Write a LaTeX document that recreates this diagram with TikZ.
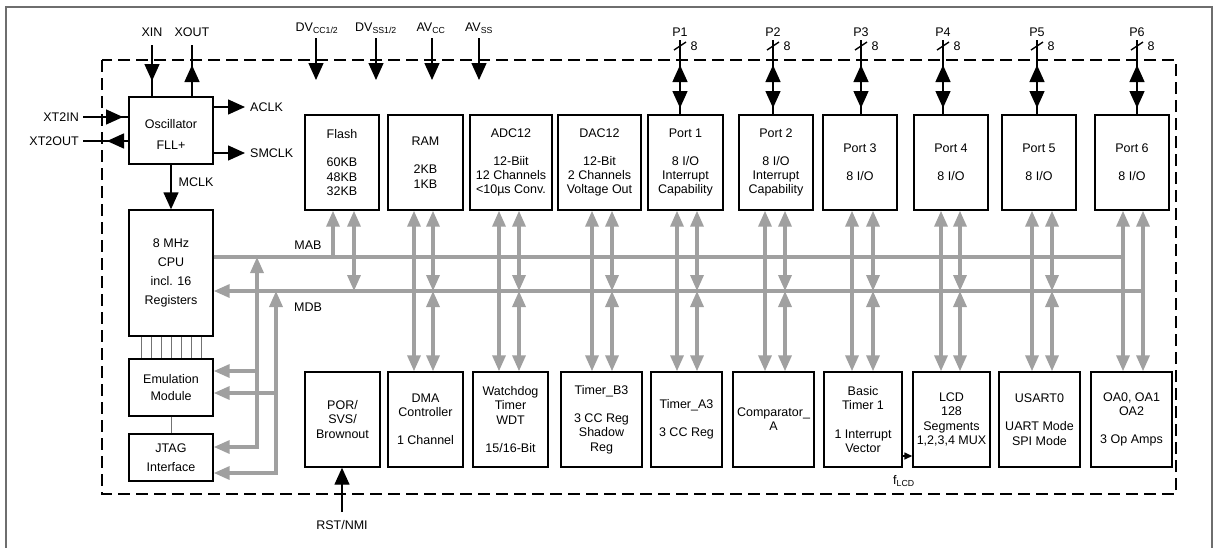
\documentclass[tikz,border=0pt]{standalone}
\usepackage{fontspec}
\setmainfont{Liberation Sans}
\usetikzlibrary{arrows.meta}
\definecolor{busgray}{RGB}{160,160,160}
\definecolor{framegray}{RGB}{110,110,110}
\begin{document}
\begin{tikzpicture}[x=1pt,y=-1pt,
  every node/.style={font=\fontsize{12.5}{14.2}\selectfont, inner sep=0pt},
  mod/.style={draw, line width=1.4pt, align=center},
  topmod/.style={mod, minimum height=95pt},
  blk/.tip={Triangle[width=15pt,length=17pt]},
  gtip/.tip={Triangle[width=13pt,length=16pt]},
  wire/.style={line width=1.4pt},
  thinwire/.style={line width=0.8pt, draw=black!55},
  gline/.style={draw=busgray, line width=3.4pt},
  gboth/.style={gline, gtip-gtip},
  gend/.style={gline, -gtip},
  chip/.style={line width=2.6pt, dash pattern=on 12pt off 6pt},
]
\useasboundingbox (0,0) rectangle (1216,547);
% outer frame and chip boundary
\draw[framegray, line width=1.2pt] (6,552) -- (6,7) -- (1212,7) -- (1212,552);
\draw[chip] (102,60) rectangle (1176,494);

% left column
\node[mod, minimum width=84pt, minimum height=67pt] (osc) at (171,130.5) {};
\node[align=center] (osctext) at (171,134.5) {Oscillator\\[6.8pt]FLL+};
\node[mod, minimum width=84pt, minimum height=126pt] (cpu) at (171,273) {8 MHz\\[5pt]CPU\\[5pt]incl. 16\\[5pt]Registers};
\node[mod, minimum width=84pt, minimum height=57pt] (emu) at (171,387.5) {Emulation\\[2pt]Module};
\node[mod, minimum width=84pt, minimum height=47pt] (jtag) at (171,457.5) {JTAG\\[5pt]Interface};

% top modules
\node[topmod, minimum width=74pt] (flash) at (342,162.5) {Flash\\[14pt]60KB\\48KB\\32KB};
\node[topmod, minimum width=75pt] (ram) at (425.5,162.5) {RAM\\[14pt]2KB\\1KB};
\node[topmod, minimum width=82pt] (adc) at (511,162.5) {ADC12\\[14pt]12-Biit\\12 Channels\\<10µs Conv.};
\node[topmod, minimum width=83pt] (dac) at (599.5,162.5) {DAC12\\[14pt]12-Bit\\2 Channels\\Voltage Out};
\node[topmod, minimum width=75pt] (p1) at (685.5,162.5) {Port 1\\[14pt]8 I/O\\Interrupt\\Capability};
\node[topmod, minimum width=74pt] (p2) at (776,162.5) {Port 2\\[14pt]8 I/O\\Interrupt\\Capability};
\node[topmod, minimum width=74pt] (p3) at (860,162.5) {Port 3\\[14pt]8 I/O};
\node[topmod, minimum width=74pt] (p4) at (951,162.5) {Port 4\\[14pt]8 I/O};
\node[topmod, minimum width=74pt] (p5) at (1039,162.5) {Port 5\\[14pt]8 I/O};
\node[topmod, minimum width=74pt] (p6) at (1132,162.5) {Port 6\\[14pt]8 I/O};

% bottom modules
\node[topmod, minimum width=75pt] (por) at (342.5,419.5) {POR/\\SVS/\\Brownout};
\node[topmod, minimum width=75pt] (dma) at (425.5,419.5) {DMA\\Controller\\[14pt]1 Channel};
\node[topmod, minimum width=75pt] (wdt) at (510.5,419.5) {Watchdog\\Timer\\WDT\\[14pt]15/16-Bit};
\node[topmod, minimum width=81pt] (tb) at (601.5,419.5) {Timer\_B3\\[14pt]3 CC Reg\\Shadow\\Reg};
\node[topmod, minimum width=71pt] (ta) at (686.5,419.5) {Timer\_A3\\[14pt]3 CC Reg};
\node[topmod, minimum width=81pt] (comp) at (773.5,419.5) {Comparator\_\\A};
\node[topmod, minimum width=78pt] (bt) at (863,419.5) {Basic\\Timer 1\\[14pt]1 Interrupt\\Vector};
\node[topmod, minimum width=77pt] (lcd) at (951.5,419.5) {LCD\\128\\Segments\\1,2,3,4 MUX};
\node[topmod, minimum width=81pt] (usart) at (1039.5,419.5) {USART0\\[14pt]UART Mode\\SPI Mode};
\node[topmod, minimum width=81pt] (oa) at (1131.5,419.5) {OA0, OA1\\OA2\\[14pt]3 Op Amps};

% oscillator pins
\node (xinl) at (152,32) {XIN};
\node (xoutl) at (192,32) {XOUT};
\coordinate (xin) at (152,45);
\coordinate (xout) at (192,45);
\draw[wire] (xin) -- (osc.north -| xin);
\draw[wire,-blk] (xin) -- (152,81);
\draw[wire] (osc.north -| xout) -- (xout);
\draw[wire,-blk] (192,83) -- (192,65);

\node[anchor=east] (xt2inl) at (79,117) {XT2IN};
\node[anchor=east] (xt2outl) at (79,141) {XT2OUT};
\coordinate (xt2in) at (83,117);
\coordinate (xt2out) at (83,141);
\draw[wire] (xt2in) -- (osc.west |- xt2in);
\draw[wire,-blk] (xt2in) -- (123,117);
\draw[wire] (osc.west |- xt2out) -- (xt2out);
\draw[wire,-blk] (osc.west |- xt2out) -- (107,141);

\coordinate (aclk) at (245,107);
\coordinate (smclk) at (245,153);
\draw[wire,-blk] (osc.east |- aclk) -- (aclk);
\draw[wire,-blk] (osc.east |- smclk) -- (smclk);
\node[anchor=west] (aclkl) at (250,107) {ACLK};
\node[anchor=west] (smclkl) at (250,153) {SMCLK};

\draw[wire,-blk] (osc.south) -- (cpu.north);
\node (mclkl) at (196,182) {MCLK};

% cpu - emulation - jtag
\foreach \i in {-3,...,3}
  \draw[thinwire] ([xshift=\i*10pt]cpu.south) -- ([xshift=\i*10pt]emu.north);
\draw[thinwire] (emu.south) -- (jtag.north);

% power pins
\node[anchor=base] (dvccl) at (317,31.5) {DV\textsubscript{CC1/2}};
\node[anchor=base] (dvssl) at (376,31.5) {DV\textsubscript{SS1/2}};
\node[anchor=base] (avccl) at (431,31.5) {AV\textsubscript{CC}};
\node[anchor=base] (avssl) at (479,31.5) {AV\textsubscript{SS}};
\coordinate (dvcc) at (316,38);
\coordinate (dvss) at (376,38);
\coordinate (avcc) at (432,38);
\coordinate (avss) at (479,38);
\draw[wire,-blk] (dvcc) -- ++(0,42);
\draw[wire,-blk] (dvss) -- ++(0,42);
\draw[wire,-blk] (avcc) -- ++(0,42);
\draw[wire,-blk] (avss) -- ++(0,42);

% ports
\foreach \n/\x in {1/680,2/773,3/861,4/943,5/1037,6/1137}{
  \coordinate (pin\n) at (\x,40);
  \draw[wire] (pin\n) -- (p\n.north -| pin\n);
  \draw[wire,-blk] (\x,83) -- (\x,65);
  \draw[wire,-blk] (\x,88) -- (\x,108);
  \draw[wire] (\x-6,50) -- (\x+6,42);
  \node (plbl\n) at (\x,32) {P\n};
  \node (pw\n) at (\x+14,46) {8};
}

% buses
\coordinate (mab) at (0,257);
\coordinate (mdb) at (0,291);
\coordinate (mabend) at (1123,257);
\coordinate (mdbend) at (1143,291);
\draw[gline] (cpu.east |- mab) -- (mabend);
\draw[gend] (mdbend) -- (cpu.east |- mdb);
\node (mabl) at (308,245) {MAB};
\node (mdbl) at (308,307) {MDB};

% flash column
\coordinate (fl) at (333,0);
\coordinate (fr) at (354,0);
\draw[gend] (fl |- mab) -- (flash.south -| fl);
\draw[gboth] (flash.south -| fr) -- (fr |- mdb);

% general columns
\foreach \t/\b/\xl/\xr in {ram/dma/414/433, adc/wdt/499/519, dac/tb/592/612, p1/ta/677/697, p2/comp/765/785, p3/bt/852/873, p4/lcd/941/960, p5/usart/1032/1052}{
  \coordinate (cl) at (\xl,0);
  \coordinate (cr) at (\xr,0);
  \draw[gboth] (\t.south -| cl) -- (\b.north -| cl);
  \draw[gboth] (\t.south -| cr) -- (cr |- mdb);
  \draw[gboth] (cr |- mdb) -- (\b.north -| cr);
}

% port 6 / op amps column
\coordinate (o1) at (1123,0);
\coordinate (o2) at (1143,0);
\draw[gboth] (p6.south -| o1) -- (oa.north -| o1);
\draw[gboth] (p6.south -| o2) -- (oa.north -| o2);

% emulation / jtag bus taps
\coordinate (va) at (257,0);
\coordinate (vb) at (276,0);
\coordinate (ea) at (0,371);
\coordinate (eb) at (0,393);
\coordinate (ja) at (0,447);
\coordinate (jb) at (0,473);
\draw[gboth] (va |- mab) -- (va |- ja) -- (jtag.east |- ja);
\draw[gboth] (vb |- mdb) -- (vb |- jb) -- (jtag.east |- jb);
\draw[gend] (va |- ea) -- (emu.east |- ea);
\draw[gend] (vb |- eb) -- (emu.east |- eb);

% fLCD
\coordinate (flcd) at (0,456);
\draw[wire,-{Triangle[width=7pt,length=8pt]}] (bt.east |- flcd) -- (lcd.west |- flcd);
\node[anchor=west] (flcdl) at (893,481) {f\textsubscript{LCD}};

% RST/NMI
\coordinate (rst) at (342,512);
\draw[wire,-blk] (rst) -- (por.south -| rst);
\node (rstl) at (342,525) {RST/NMI};
\end{tikzpicture}
\end{document}
